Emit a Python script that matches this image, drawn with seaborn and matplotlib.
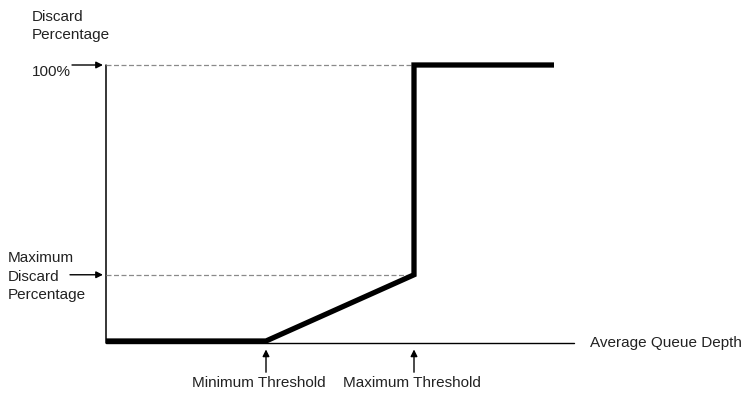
import matplotlib
matplotlib.use("Agg")
import matplotlib.pyplot as plt
import seaborn as sns
import pandas as pd

# WRED の廃棄曲線（キュー深さ → 廃棄率 %）
queue_depth = [0, 40, 77, 77, 112]
discard_pct = [0, 0, 24, 100, 100]

min_threshold = 40
max_threshold = 77
max_discard = 24
full_discard = 100
axis_end = 117
axis_y = -0.8

text_color = "#222222"

sns.set_style("white")
plt.rcParams["font.family"] = ["Liberation Sans", "DejaVu Sans"]
plt.rcParams["font.size"] = 11

fig = plt.figure(figsize=(7.43, 3.94), dpi=100)
ax = fig.add_axes([0, 0, 1, 1])
ax.set_xlim(-26.5, 159.25)
ax.set_ylim(-19.2, 123.55)
ax.axis("off")

# 軸
ax.plot([0, axis_end], [axis_y, axis_y], color="black", lw=1.0)
ax.plot([0, 0], [axis_y, full_discard], color="black", lw=1.1)

# 補助線（点線）
for level in [full_discard, max_discard]:
    ax.plot([0, max_threshold], [level, level], color="#8a8a8a", lw=0.9, dashes=(4, 2))

# 廃棄曲線
curve = pd.DataFrame({"depth": queue_depth, "pct": discard_pct})
sns.lineplot(data=curve, x="depth", y="pct", sort=False, estimator=None,
             color="black", lw=3.8, ax=ax,
             solid_joinstyle="miter", solid_capstyle="butt")
ax.axis("off")

arrow = dict(arrowstyle="-|>", color="black", lw=1.0, mutation_scale=10,
             shrinkA=0, shrinkB=2.2)

# 左側のラベル
ax.annotate("", xy=(0, full_discard), xytext=(-34, 0),
            textcoords="offset pixels", arrowprops=arrow)
ax.annotate("100%", xy=(0, full_discard), xytext=(-74, -7),
            textcoords="offset pixels", ha="left", va="center", color=text_color)
ax.annotate("Discard\nPercentage", xy=(0, full_discard), xytext=(-74, 39),
            textcoords="offset pixels", ha="left", va="center", color=text_color,
            linespacing=1.4)

ax.annotate("", xy=(0, max_discard), xytext=(-36, 0),
            textcoords="offset pixels", arrowprops=arrow)
ax.annotate("Maximum\nDiscard\nPercentage", xy=(0, max_discard), xytext=(-98, -2),
            textcoords="offset pixels", ha="left", va="center", color=text_color,
            linespacing=1.4)

# しきい値の矢印とラベル
up_arrow = dict(arrow, shrinkB=4.5)
for thr, label, dx in [(min_threshold, "Minimum Threshold", -7),
                       (max_threshold, "Maximum Threshold", -2)]:
    ax.annotate("", xy=(thr, axis_y), xytext=(0, -29),
                textcoords="offset pixels", arrowprops=up_arrow)
    ax.annotate(label, xy=(thr, axis_y), xytext=(dx, -40),
                textcoords="offset pixels", ha="center", va="center", color=text_color)

ax.annotate("Average Queue Depth", xy=(axis_end, axis_y), xytext=(16, 0),
            textcoords="offset pixels", ha="left", va="center", color=text_color)

fig.savefig("out.png", dpi=100)
plt.close(fig)
